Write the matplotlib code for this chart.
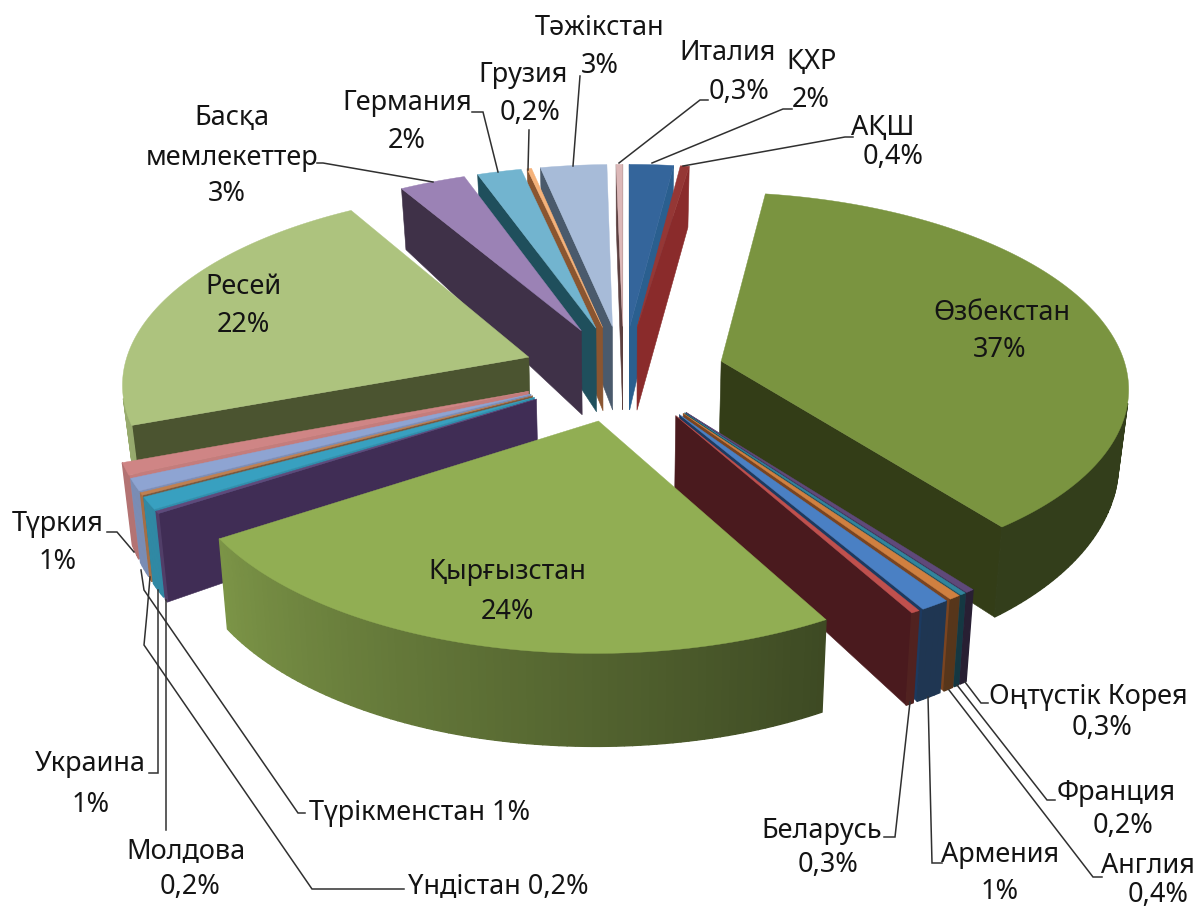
"""Экспорт диаграммасы - 3D exploded pie, drawn with a small perspective model"""

import numpy as np
import matplotlib
matplotlib.use('Agg')
import matplotlib.pyplot as plt
from matplotlib.colors import to_rgb

plt.rcParams['font.family'] = ['Noto Sans', 'DejaVu Sans']

# clockwise from 12 o'clock
countries = ['ҚХР', 'АҚШ', 'Өзбекстан', 'Оңтүстік Корея', 'Франция', 'Англия', 'Армения',
             'Беларусь', 'Қырғызстан', 'Үндістан', 'Түрікменстан', 'Молдова', 'Украина',
             'Түркия', 'Ресей', 'Басқа\nмемлекеттер', 'Германия', 'Грузия', 'Тәжікстан', 'Италия']
shares = [2, 0.4, 37, 0.3, 0.2, 0.4, 1, 0.3, 24, 0.2, 1, 0.2, 1, 1, 22, 3, 2, 0.2, 3, 0.3]

top_colors = ['#34659b', '#953735', '#7a9440', '#5f497a', '#31859c', '#d08040', '#4a80c4',
              '#c0504d', '#91ae53', '#5f497a', '#38a0c0', '#c08050', '#8ea4d2', '#cf8585',
              '#adc37e', '#9b82b5', '#72b4cf', '#f5b27a', '#a7bbd8', '#dcb8b8']
cut_colors = ['#2a5f8f', '#8a2b2b', '#333d17', '#3c2f55', '#1f4f5c', '#7a4420', '#1c3a60',
              '#4a1a1e', '#3c4a1e', '#402d55', '#2f8fae', '#7a5a40', '#7d8fb8', '#c47c7c',
              '#4b5430', '#3f3148', '#1f4f5c', '#8a5530', '#4a5a6c', '#5c4040']

# perspective model, fitted to the picture
CX, CY = 623.6, 373.0
RADIUS, RADIUS_Y = 406.0, 192.0
PERSP = 0.12
EXPLODE = 0.25


def project(x, y):
    w = 1 - PERSP * y
    return CX + RADIUS * x / w, CY + RADIUS_Y * y / w


def drop(sx, sy, y):
    # bottom edge of the wall for a point on the top face
    w = 1 - PERSP * y
    h = np.interp(y / w, [-0.93, -0.22, 0.1, 0.8, 1.4], [61, 84, 74, 90, 93])
    return CX + (sx - CX) * 0.98, sy + h


def area(pts):
    xs, ys = np.array(pts).T
    return 0.5 * np.sum(xs * np.roll(ys, -1) - np.roll(xs, -1) * ys)


def wall_shade(theta):
    return np.interp(theta, [90, 150, 237, 290], [0.42, 0.42, 0.85, 0.92])


def quad_between(x0, y0, x1, y1):
    t0 = project(x0, y0)
    t1 = project(x1, y1)
    return [t0, t1, drop(*t1, y1), drop(*t0, y0)]


def draw_slice(ax, start, end, top, cut):
    mid = np.radians((start + end) / 2)
    ax0 = EXPLODE * np.sin(mid)
    ay0 = -EXPLODE * np.cos(mid)
    thetas = np.linspace(start, end, max(3, int(end - start) + 2))
    px = ax0 + np.sin(np.radians(thetas))
    py = ay0 - np.cos(np.radians(thetas))

    # cut faces
    q = quad_between(ax0, ay0, px[0], py[0])
    if area(q) < 0:
        ax.fill(*zip(*q), color=cut, lw=0.4)
    q = quad_between(ax0, ay0, px[-1], py[-1])
    if area(q) > 0:
        ax.fill(*zip(*q), color=cut, lw=0.4)

    # outer wall
    rgb = np.array(to_rgb(top))
    for i in range(len(thetas) - 1):
        q = quad_between(px[i], py[i], px[i + 1], py[i + 1])
        if area(q) < 0:
            c = rgb * wall_shade((thetas[i] + thetas[i + 1]) / 2)
            ax.fill(*zip(*q), color=c, lw=1.0)

    # top face
    xs = [project(ax0, ay0)[0]] + [project(a, b)[0] for a, b in zip(px, py)]
    ys = [project(ax0, ay0)[1]] + [project(a, b)[1] for a, b in zip(px, py)]
    ax.fill(xs, ys, color=top, lw=0.3)


def pct(v):
    return f'{v:g}'.replace('.', ',') + '%'


fig = plt.figure(figsize=(11.98, 9.09), dpi=100)
ax = fig.add_axes([0, 0, 1, 1])
ax.set_xlim(0, 1198)
ax.set_ylim(909, 0)
ax.axis('off')

angles = np.array(shares) / sum(shares) * 360
ends = np.cumsum(angles)
starts = ends - angles

# back slices first, front slices on top
order = np.argsort(-np.cos(np.radians((starts + ends) / 2)))
for i in order:
    draw_slice(ax, starts[i], ends[i], top_colors[i], cut_colors[i])

# label layout: name centre, value centre, leader points
layout = {
    'ҚХР': ((812, 62), (811, 100), [(792, 109), (783, 109), (652, 163)]),
    'АҚШ': ((883, 128), (893, 157), [(853, 137), (845, 137), (683, 166)]),
    'Өзбекстан': ((1002, 313), (1000, 350), None),
    'Оңтүстік Корея': ((1088, 697), (1102, 728), [(988, 703), (981, 703), (965, 682)]),
    'Франция': ((1116, 793), (1123, 826), [(1055, 800), (1047, 800), (957, 685)]),
    'Англия': ((1148, 866), (1158, 895), [(1102, 877), (1093, 877), (949, 690)]),
    'Армения': ((1000, 855), (1000, 892), [(942, 863), (932, 863), (928, 697)]),
    'Беларусь': ((822, 831), (828, 865), [(884, 837), (895, 837), (910, 702)]),
    'Қырғызстан': ((507, 572), (507, 612), None),
    'Үндістан': ((None, None), None, [(404, 889), (312, 889), (144, 645), (147, 613), (150, 577)]),
    'Түрікменстан': ((None, None), None, [(305, 813), (298, 813), (144, 590), (141, 570)]),
    'Молдова': ((186, 852), (190, 887), [(166, 830), (166, 600)]),
    'Украина': ((90, 764), (91, 805), [(149, 773), (158, 773), (158, 590)]),
    'Түркия': ((58, 524), (58, 562), [(107, 532), (117, 532), (134, 552)]),
    'Ресей': ((243, 287), (243, 325), None),
    'Басқа\nмемлекеттер': ((232, 138), (227, 194), [(317, 163), (323, 163), (433, 182)]),
    'Германия': ((407, 103), (407, 141), [(472, 112), (483, 112), (498, 172)]),
    'Грузия': ((523, 75), (530, 113), [(529, 130), (528, 170)]),
    'Тәжікстан': ((600, 28), (600, 66), [(580, 76), (573, 166)]),
    'Италия': ((728, 53), (739, 92), [(708, 100), (700, 100), (619, 163)]),
}
one_line = {'Түрікменстан': (420, 813), 'Үндістан': (498, 887)}

FONT = 19.5
TEXT_COLOR = '#141414'
for name, value in zip(countries, shares):
    name_xy, value_xy, leader = layout[name]
    if leader:
        ax.plot(*zip(*leader), color='#303030', lw=1.1, solid_joinstyle='miter')
    if name in one_line:
        ax.text(*one_line[name], f'{name} {pct(value)}', ha='center', va='center',
                fontsize=FONT, color=TEXT_COLOR)
    else:
        ax.text(*name_xy, name, ha='center', va='center', fontsize=FONT, color=TEXT_COLOR,
                linespacing=1.55)
        ax.text(*value_xy, pct(value), ha='center', va='center', fontsize=FONT, color=TEXT_COLOR)

plt.savefig('out.png', dpi=100)
plt.close()
